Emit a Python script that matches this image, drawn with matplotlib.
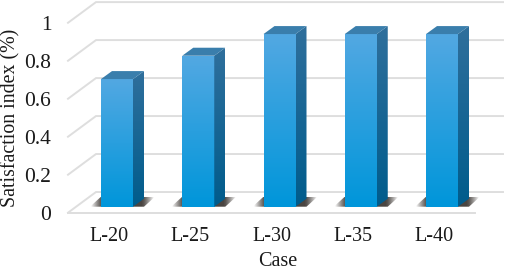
# Satisfaction index per case, drawn as a fake 3D column chart

import numpy as np
import matplotlib
matplotlib.use('Agg')
import matplotlib.pyplot as plt
from matplotlib.colors import LinearSegmentedColormap, to_rgb
from matplotlib.patches import Polygon

cases = ['L-20', 'L-25', 'L-30', 'L-35', 'L-40']
satisfaction = [0.672, 0.795, 0.909, 0.909, 0.909]
y_ticks = [0, 0.2, 0.4, 0.6, 0.8, 1]
y_tick_labels = ['0', '0.2', '0.4', '0.6', '0.8', '1']

plt.rcParams['font.family'] = ['Liberation Serif']

W, H = 505, 272
PX_X = 81.25  # pixels per category
PX_Y = 190.0  # pixels per unit of y


def gradient(ax, x0, x1, y0, y1, top, bottom, clip=None):
    cmap = LinearSegmentedColormap.from_list('g', [top, bottom])
    vals = np.linspace(0, 1, 64).reshape(-1, 1)
    im = ax.imshow(vals, cmap=cmap, extent=(x0, x1, y0, y1), aspect='auto', zorder=3,
                   interpolation='bilinear', origin='upper')
    if clip is not None:
        im.set_clip_path(Polygon(clip, transform=ax.transData))
    return im


def draw_shadow(ax, x0, x1, base, rise, slant):
    # soft dark parallelogram behind the foot of a column
    pts = [(x0, base), (x1, base), (x1 + slant, base + rise), (x0 + slant, base + rise)]
    rgba = np.ones((8, 32, 4))
    rgba[..., :3] = to_rgb('#4a4541')
    fade = np.clip(1.7 - 1.7 * np.abs(np.linspace(-1, 1, 32)) ** 2, 0, 1)
    rgba[..., 3] = fade
    im = ax.imshow(rgba, extent=(x0, x1 + slant, base, base + rise), aspect='auto', zorder=2,
                   interpolation='bilinear')
    im.set_clip_path(Polygon(pts, transform=ax.transData))


fig = plt.figure(figsize=(W / 100, H / 100), dpi=100)
ax = fig.add_axes([68 / W, (H - 212.7) / H, 435 / W, 212.7 / H])

positions = np.arange(len(cases))
bar_w = 32 / PX_X
side_dx = 11 / PX_X
side_dy = 8 / PX_Y
foot = 6 / PX_Y  # columns stand a little behind the front of the floor

# walls: front edge, slanted floor line, back wall line
left = -49 / PX_X
back_left = -21 / PX_X
right = 386 / PX_X
back_dy = 20.7 / PX_Y
for t in y_ticks:
    ax.plot([left, back_left, right], [t, t + back_dy, t + back_dy], color='#dedede', lw=1.4,
            zorder=1, clip_on=False, solid_joinstyle='miter')
ax.plot([left, right - 28 / PX_X], [0, 0], color='#dedede', lw=1.4, zorder=1, clip_on=False)

for x, v in zip(positions, satisfaction):
    x0 = x - bar_w / 2
    x1 = x + bar_w / 2
    y0 = foot
    y1 = foot + v
    draw_shadow(ax, x0 - 11 / PX_X, x1 + 11 / PX_X, y0, 10 / PX_Y, 11 / PX_X)
    gradient(ax, x0, x1, y0, y1, '#52a8e2', '#0096da')
    side = [(x1, y0), (x1 + side_dx, y0 + side_dy), (x1 + side_dx, y1 + side_dy), (x1, y1)]
    gradient(ax, x1, x1 + side_dx, y0, y1 + side_dy, '#2f6f9c', '#005c8c', clip=side)
    ax.add_patch(Polygon([(x0, y1), (x1, y1), (x1 + side_dx, y1 + side_dy), (x0 + side_dx, y1 + side_dy)],
                         facecolor='#3a7eac', edgecolor='none', zorder=3))

ax.set_xlim(left, right)
ax.set_ylim(0, 1.12)
for s in ax.spines.values():
    s.set_visible(False)
ax.patch.set_visible(False)

ax.set_xticks(positions - 8 / PX_X)
ax.set_xticklabels(cases, fontsize=14.5, color='#1a1a1a')
ax.set_yticks(y_ticks)
ax.set_yticklabels(y_tick_labels, fontsize=15.5, color='#1a1a1a')
ax.tick_params(axis='both', length=0)
ax.tick_params(axis='y', pad=12)
ax.tick_params(axis='x', pad=10.5)

ax.set_xlabel('Case', fontsize=14.5, color='#1a1a1a')
ax.xaxis.set_label_coords((278 - 68) / 435, -(262 - 212.7) / 212.7)
ax.xaxis.label.set_va('center')
ax.set_ylabel('Satisfaction index (%)', fontsize=14.3, color='#1a1a1a')
ax.yaxis.set_label_coords(-(68 - 11) / 435, (212.7 - 117.5) / 212.7)
ax.yaxis.label.set_va('center')

fig.savefig('out.png', dpi=100)
plt.close()
